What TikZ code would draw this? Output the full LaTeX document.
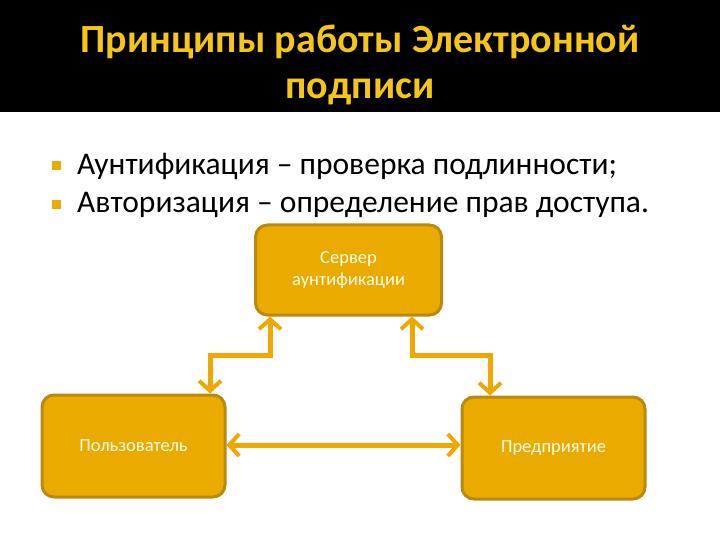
\documentclass[tikz,border=0pt]{standalone}
\usepackage{fontspec}
\setmainfont{Carlito}
\usetikzlibrary{arrows.meta}
\definecolor{gold}{HTML}{EBAA00}
\definecolor{golddark}{HTML}{B88A10}
\definecolor{arrowc}{HTML}{F0A800}
\definecolor{titlec}{HTML}{F5C518}
\begin{document}
\begin{tikzpicture}[x=1pt,y=-1pt,
  box/.style={draw=golddark,line width=3pt,fill=gold,rounded corners=12pt,text=white!92!yellow,font=\fontsize{18.5}{22}\selectfont,align=center,inner sep=0pt},
  conn/.style={draw=arrowc,line width=5pt,{Straight Barb[length=10pt,width=22pt,line width=4pt]}-{Straight Barb[length=10pt,width=22pt,line width=4pt]}}]
\useasboundingbox (0,0) rectangle (720,540);
\fill[black] (0,0) rectangle (720,112);
\node[text=titlec,font=\bfseries\fontsize{40}{46}\selectfont,align=center] (title) at (360,65) {Принципы работы Электронной\\подписи};
\fill[gold] (52,161) rectangle (61,170);
\fill[gold] (52,200) rectangle (61,209);
\node[anchor=west,font=\fontsize{31.5}{34}\selectfont,inner sep=0pt] (b1) at (77,166) {Аунтификация – проверка подлинности;};
\node[anchor=west,font=\fontsize{31.5}{34}\selectfont,inner sep=0pt] (b2) at (77,205) {Авторизация – определение прав доступа.};
\node[box,minimum width=186pt,minimum height=90pt] (srv) at (348.5,270) {Сервер\\аунтификации};
\node[box,minimum width=183pt,minimum height=102pt] (usr) at (133.5,446) {Пользователь};
\node[box,minimum width=183pt,minimum height=102pt] (ent) at (553.5,448) {Предприятие};
\coordinate (c1) at (270,355);
\coordinate (c2) at (210,355);
\coordinate (c3) at (412,355);
\coordinate (c4) at (490,355);
\draw[conn] (srv.south -| c1) -- (c1) -- (c2) -- (usr.north -| c2);
\draw[conn] (srv.south -| c3) -- (c3) -- (c4) -- (ent.north -| c4);
\draw[conn] (usr.east |- 0,445) -- (ent.west |- 0,445);
\end{tikzpicture}
\end{document}
